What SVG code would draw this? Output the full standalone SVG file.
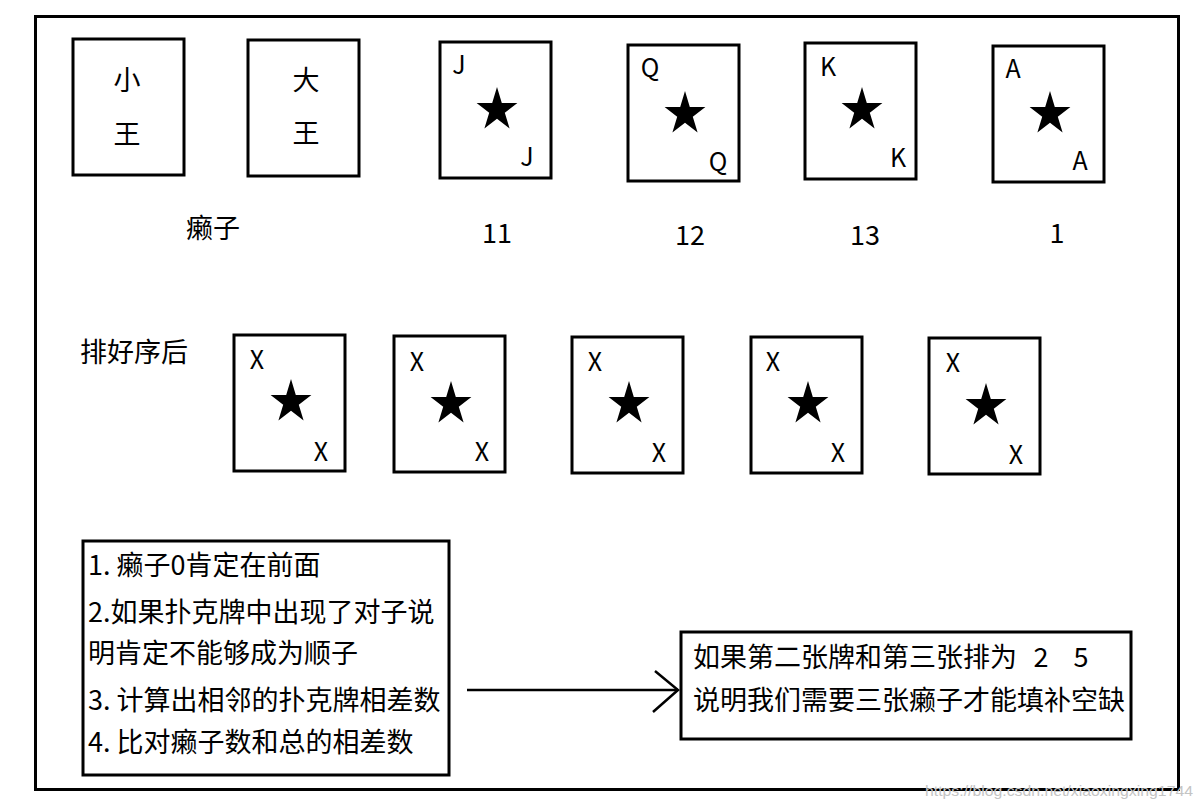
<svg xmlns="http://www.w3.org/2000/svg" xmlns:xlink="http://www.w3.org/1999/xlink" width="1204" height="809" viewBox="0 0 1204 809">
<style>
.frame{fill:none;stroke:#000;stroke-width:3}
.card{fill:#fff;stroke:#000;stroke-width:3}
.box{fill:#fff;stroke:#000;stroke-width:3}
.cjk{font-family:"Noto Sans CJK SC","Noto Sans",sans-serif;font-size:27px;fill:#000}
.ltr{font-family:"Noto Sans CJK SC","Noto Sans",sans-serif;font-size:25px;fill:#000;text-anchor:middle}
.num{font-family:"Noto Sans CJK SC","Noto Sans",sans-serif;font-size:27px;fill:#000;text-anchor:middle}
.mid{text-anchor:middle}
.wm{font-family:"Liberation Sans",Arial,sans-serif;font-size:15px;fill:#c4c4c4}
.conn{fill:none;stroke:#000;stroke-width:2.5}
</style>
<defs>
<path id="star" d="M0,-21 L4.8,-5 L20.4,-5 L7.8,4.7 L12.6,20.6 L0,10.8 L-12.6,20.6 L-7.8,4.7 L-20.4,-5 L-4.8,-5 Z" fill="#000"/>
<marker id="chev" markerUnits="userSpaceOnUse" viewBox="-30 -26 34 52" refX="0" refY="0" markerWidth="34" markerHeight="52" orient="auto">
<path d="M-23,-19 L0,0 L-25,22" fill="none" stroke="#000" stroke-width="2.5"/>
</marker>
</defs>
<rect width="1204" height="809" fill="#fff"/>
<rect class="frame" x="35.5" y="16.5" width="1143" height="773"/>

<g id="card-xiaowang">
<rect class="card" x="73" y="39" width="111" height="136"/>
<text class="cjk mid" x="127" y="90">小</text>
<text class="cjk mid" x="127" y="144">王</text>
</g>
<g id="card-dawang">
<rect class="card" x="248" y="40" width="111" height="136"/>
<text class="cjk mid" x="306" y="90">大</text>
<text class="cjk mid" x="306" y="143">王</text>
</g>
<g id="card-j">
<rect class="card" x="440" y="42" width="111" height="136"/>
<text class="ltr" x="459" y="74">J</text>
<use href="#star" x="497" y="108"/>
<text class="ltr" x="527" y="166">J</text>
</g>
<g id="card-q">
<rect class="card" x="628" y="45" width="111" height="136"/>
<text class="ltr" x="650" y="77">Q</text>
<use href="#star" x="685" y="112"/>
<text class="ltr" x="718" y="171">Q</text>
</g>
<g id="card-k">
<rect class="card" x="805" y="43" width="111" height="136"/>
<text class="ltr" x="828" y="76">K</text>
<use href="#star" x="862" y="108"/>
<text class="ltr" x="898" y="167">K</text>
</g>
<g id="card-a">
<rect class="card" x="993" y="46" width="111" height="136"/>
<text class="ltr" x="1013" y="78">A</text>
<use href="#star" x="1050" y="112"/>
<text class="ltr" x="1080" y="170">A</text>
</g>

<g id="labels-row1">
<text class="cjk mid" x="213" y="238">癞子</text>
<text class="num" x="497" y="243">11</text>
<text class="num" x="690" y="245">12</text>
<text class="num" x="865" y="245">13</text>
<text class="num" x="1057" y="243">1</text>
</g>

<g id="label-sorted">
<text class="cjk" x="80" y="362">排好序后</text>
</g>

<g id="card-x1">
<rect class="card" x="234" y="335" width="111" height="136"/>
<text class="ltr" x="257" y="369">X</text>
<use href="#star" x="291" y="400"/>
<text class="ltr" x="321" y="461">X</text>
</g>
<g id="card-x2">
<rect class="card" x="394" y="336" width="111" height="136"/>
<text class="ltr" x="417" y="371">X</text>
<use href="#star" x="451" y="402"/>
<text class="ltr" x="482" y="461">X</text>
</g>
<g id="card-x3">
<rect class="card" x="572" y="337" width="111" height="136"/>
<text class="ltr" x="595" y="371">X</text>
<use href="#star" x="629" y="402"/>
<text class="ltr" x="659" y="462">X</text>
</g>
<g id="card-x4">
<rect class="card" x="751" y="337" width="111" height="136"/>
<text class="ltr" x="773" y="371">X</text>
<use href="#star" x="808" y="402"/>
<text class="ltr" x="838" y="462">X</text>
</g>
<g id="card-x5">
<rect class="card" x="929" y="338" width="111" height="136"/>
<text class="ltr" x="953" y="372">X</text>
<use href="#star" x="986" y="404"/>
<text class="ltr" x="1016" y="464">X</text>
</g>

<g id="box-rules">
<rect class="box" x="83" y="541" width="366" height="234"/>
<text class="cjk" x="88" y="575">1. 癞子0肯定在前面</text>
<text class="cjk" x="88" y="622">2.如果扑克牌中出现了对子说</text>
<text class="cjk" x="88" y="663">明肯定不能够成为顺子</text>
<text class="cjk" x="88" y="710">3. 计算出相邻的扑克牌相差数</text>
<text class="cjk" x="88" y="752">4. 比对癞子数和总的相差数</text>
</g>

<g id="box-example">
<rect class="box" x="681" y="632" width="450" height="107"/>
<text class="cjk" x="693" y="667">如果第二张牌和第三张排为</text>
<text class="cjk mid" x="1041" y="667">2</text>
<text class="cjk mid" x="1081" y="667">5</text>
<text class="cjk" x="693" y="710">说明我们需要三张癞子才能填补空缺</text>
</g>

<g id="connectors">
<path class="conn" d="M467,690 L678,690" marker-end="url(#chev)"/>
</g>

<text class="wm" x="925" y="796" textLength="268" lengthAdjust="spacingAndGlyphs">https://blog.csdn.net/xiaoxingxing1744</text>
</svg>
